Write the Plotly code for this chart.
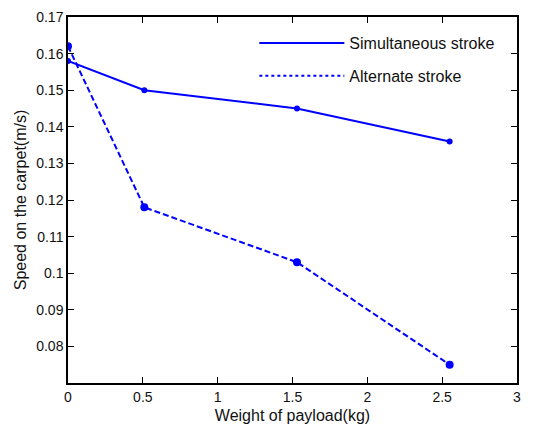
import plotly.graph_objects as go

weights = [0.0, 0.51, 1.53, 2.55]
simultaneous = [0.158, 0.150, 0.145, 0.136]
alternate = [0.162, 0.118, 0.103, 0.075]
x_ticks = [0, 0.5, 1, 1.5, 2, 2.5, 3]
x_labels = ["0", "0.5", "1", "1.5", "2", "2.5", "3"]
y_ticks = [0.08, 0.09, 0.10, 0.11, 0.12, 0.13, 0.14, 0.15, 0.16, 0.17]
y_labels = ["0.08", "0.09", "0.1", "0.11", "0.12", "0.13", "0.14", "0.15", "0.16", "0.17"]

FONT = "Liberation Sans, Arial"
BLUE = "#0000ff"

fig = go.Figure()
fig.add_trace(go.Scatter(x=weights, y=simultaneous, mode="lines+markers",
                         showlegend=False,
                         line=dict(color=BLUE, width=2),
                         marker=dict(symbol="circle", size=6, color=BLUE)))
fig.add_trace(go.Scatter(x=weights, y=alternate, mode="lines+markers",
                         showlegend=False,
                         line=dict(color=BLUE, width=2, dash="6px,3px"),
                         marker=dict(symbol="circle", size=8, color=BLUE)))
# legend entries (lines only, as in the reference)
fig.add_trace(go.Scatter(x=[None], y=[None], mode="lines", name="Simultaneous stroke",
                         legendgroup="a", line=dict(color=BLUE, width=2)))
fig.add_trace(go.Scatter(x=[None], y=[None], mode="lines", name="Alternate stroke",
                         legendgroup="b", line=dict(color=BLUE, width=2, dash="dot")))

axis_common = dict(showline=True, linecolor="black", linewidth=1.5, mirror="ticks",
                   ticks="inside", ticklen=6, tickcolor="black", showgrid=False,
                   zeroline=False, automargin=False,
                   tickfont=dict(family=FONT, size=14, color="#111"))
fig.update_xaxes(range=[0, 3], tickvals=x_ticks, ticktext=x_labels,
                 title=dict(text="Weight of payload(kg)", font=dict(family=FONT, size=16, color="#111"), standoff=6),
                 **axis_common)
fig.update_yaxes(range=[0.07, 0.17], tickvals=y_ticks, ticktext=y_labels,
                 title=dict(text="Speed on the carpet(m/s)", font=dict(family=FONT, size=16, color="#111"), standoff=6),
                 **axis_common)
# page body has an 8px margin, so the figure is shrunk and shifted accordingly
fig.update_layout(width=535, height=417, margin=dict(l=60, r=26, t=9, b=42),
                  plot_bgcolor="white", paper_bgcolor="white",
                  legend=dict(x=0.415, y=0.975, xanchor="left", yanchor="top",
                              bgcolor="rgba(255,255,255,0)", borderwidth=0,
                              itemwidth=85,
                              traceorder="grouped", tracegroupgap=9,
                              font=dict(family=FONT, size=16, color="#111")))
fig.write_html("out.html")
